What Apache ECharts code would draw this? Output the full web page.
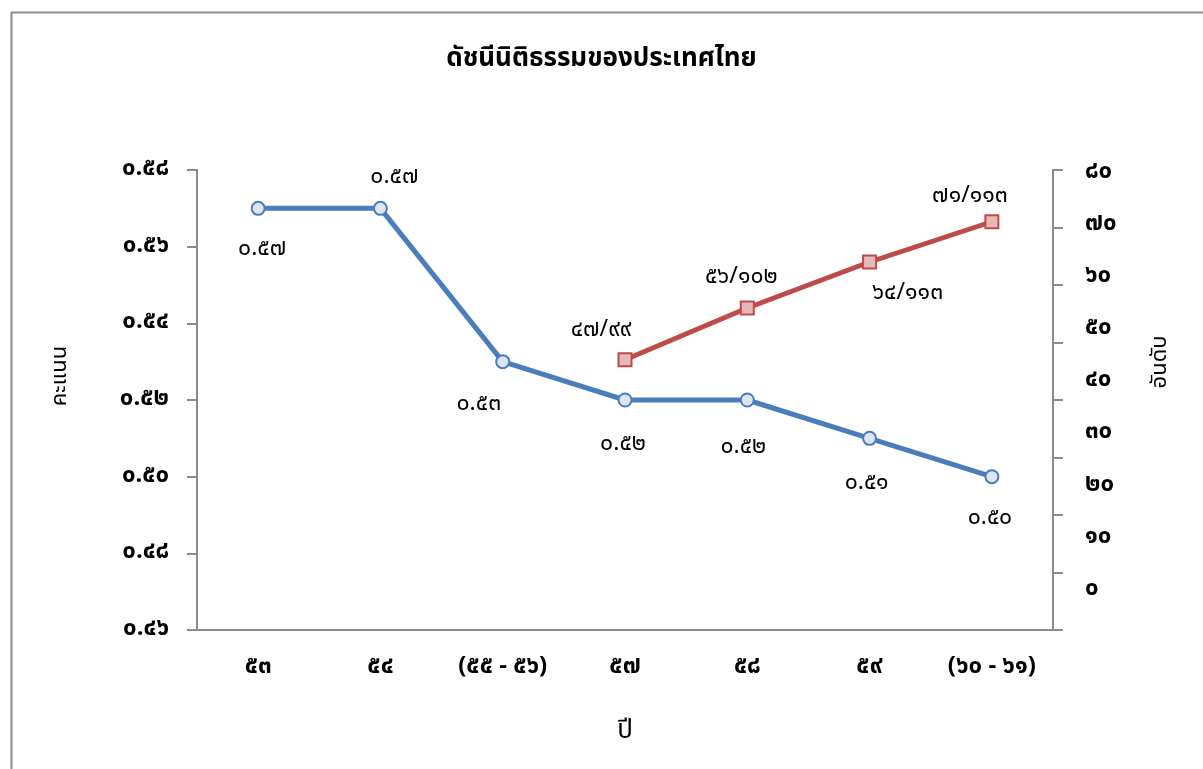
<!DOCTYPE html>
<html>
<head>
<meta charset="utf-8">
<script src="https://cdn.jsdelivr.net/npm/echarts@6/dist/echarts.min.js"></script>
<style>
html,body{margin:0;padding:0;background:#fff;}
#chart{width:1203px;height:769px;}
</style>
</head>
<body>
<div id="chart"></div>
<script>
// ---- data ----
const categories = ['๕๓', '๕๔', '(๕๕ - ๕๖)', '๕๗', '๕๘', '๕๙', '(๖๐ - ๖๑)'];
const scoreValues = [0.57, 0.57, 0.53, 0.52, 0.52, 0.51, 0.50];
const rankValues = [null, null, null, 47, 56, 64, 71];
const rankTotals = [null, null, null, 99, 102, 113, 113];
const titleText = 'ดัชนีนิติธรรมของประเทศไทย';
const leftAxisName = 'คะแนน';
const rightAxisName = 'อันดับ';
const xAxisName = 'ปี';

// ---- label placement (style only) ----
const scoreLabelOffsets = [[4, 42], [14, -30], [-24, 44], [-2, 45], [-4, 48], [-3, 46], [-2, 43]];
const rankLabelOffsets = [null, null, null, [-24, -28], [-6, -30], [38, 32], [-22, -24]];

const thaiDigits = ['๐','๑','๒','๓','๔','๕','๖','๗','๘','๙'];
function toThai(s) { return String(s).replace(/[0-9]/g, d => thaiDigits[+d]); }

const FONT = "'Noto Sans Thai', 'Noto Sans', 'DejaVu Sans', sans-serif";
const BLUE = '#4a7ebb', RED = '#be4b48', AXIS = '#8c8c8c';

const chart = echarts.init(document.getElementById('chart'));

const scoreData = scoreValues.map((v, i) => ({
  value: v,
  label: { show: true, position: 'inside', offset: scoreLabelOffsets[i] }
}));
const rankData = rankValues.map((v, i) => v == null ? null : ({
  value: v,
  label: { show: true, position: 'inside', offset: rankLabelOffsets[i] }
}));

function rotatedName(text, x, y) {
  return {
    type: 'text', x: x, y: y, rotation: Math.PI / 2, silent: true,
    style: { text: text, x: 0, y: 0, fill: '#000', font: '22px ' + FONT,
      align: 'center', verticalAlign: 'middle', textAlign: 'center', textVerticalAlign: 'middle' }
  };
}

const option = {
  backgroundColor: '#fff',
  animation: false,
  textStyle: { fontFamily: FONT },
  title: {
    text: titleText, left: 'center', top: 43,
    textStyle: { fontFamily: FONT, fontSize: 26, fontWeight: 'bold', color: '#000' }
  },
  graphic: [
    { type: 'rect', left: 9, top: 10, shape: { width: 1400, height: 900 },
      style: { fill: 'none', stroke: AXIS, lineWidth: 2 }, silent: true, z: -10 },
    rotatedName(leftAxisName, 62, 376),
    rotatedName(rightAxisName, 1162, 362)
  ],
  grid: [
    { left: 197, right: 150, top: 170, bottom: 139, containLabel: false },
    { left: 197, right: 150, top: 173, bottom: 179, containLabel: false }
  ],
  xAxis: [
    {
      type: 'category', data: categories, gridIndex: 0, boundaryGap: true,
      axisLine: { lineStyle: { color: AXIS, width: 2 } },
      axisTick: { show: false },
      axisLabel: { color: '#000', fontSize: 24, fontWeight: 'bold', margin: 26, fontFamily: FONT, interval: 0 },
      name: xAxisName, nameLocation: 'middle', nameGap: 90,
      nameTextStyle: { color: '#000', fontSize: 26, fontFamily: FONT }
    },
    { type: 'category', data: categories, gridIndex: 1, show: false }
  ],
  yAxis: [
    {
      type: 'value', gridIndex: 0, position: 'left', min: 0.46, max: 0.58, interval: 0.02,
      axisLine: { show: true, lineStyle: { color: AXIS, width: 2 } },
      axisTick: { show: true, length: 10, lineStyle: { color: AXIS, width: 2 } },
      splitLine: { show: false },
      axisLabel: { color: '#000', fontSize: 24, fontWeight: 'bold', margin: 28, fontFamily: FONT,
        formatter: v => toThai(v.toFixed(2)) }
    },
    {
      type: 'value', gridIndex: 0, position: 'right', min: 0, max: 80, interval: 10,
      axisLine: { show: true, lineStyle: { color: AXIS, width: 2 } },
      axisTick: { show: true, length: 10, lineStyle: { color: AXIS, width: 2 } },
      splitLine: { show: false },
      axisLabel: { show: false }
    },
    {
      type: 'value', gridIndex: 1, position: 'right', min: 0, max: 80, interval: 10,
      axisLine: { show: false }, axisTick: { show: false }, splitLine: { show: false },
      axisLabel: { color: '#000', fontSize: 24, fontWeight: 'bold', margin: 32, fontFamily: FONT,
        formatter: v => toThai(v) }
    }
  ],
  series: [
    {
      type: 'line', name: 'score', xAxisIndex: 0, yAxisIndex: 0, data: scoreData,
      symbol: 'circle', symbolSize: 13,
      lineStyle: { color: BLUE, width: 5 },
      itemStyle: { color: '#dce6f2', borderColor: BLUE, borderWidth: 2 },
      label: { color: '#000', fontSize: 23, fontFamily: FONT,
        formatter: p => toThai(p.value.toFixed(2)) },
      z: 3
    },
    {
      type: 'line', name: 'rank', xAxisIndex: 0, yAxisIndex: 1, data: rankData,
      symbol: 'rect', symbolSize: 13,
      lineStyle: { color: RED, width: 5 },
      itemStyle: { color: '#e6b9b8', borderColor: RED, borderWidth: 2 },
      label: { color: '#000', fontSize: 23, fontFamily: FONT,
        formatter: p => toThai(p.value + '/' + rankTotals[p.dataIndex]) },
      z: 4
    }
  ]
};
chart.setOption(option);
</script>
</body>
</html>
